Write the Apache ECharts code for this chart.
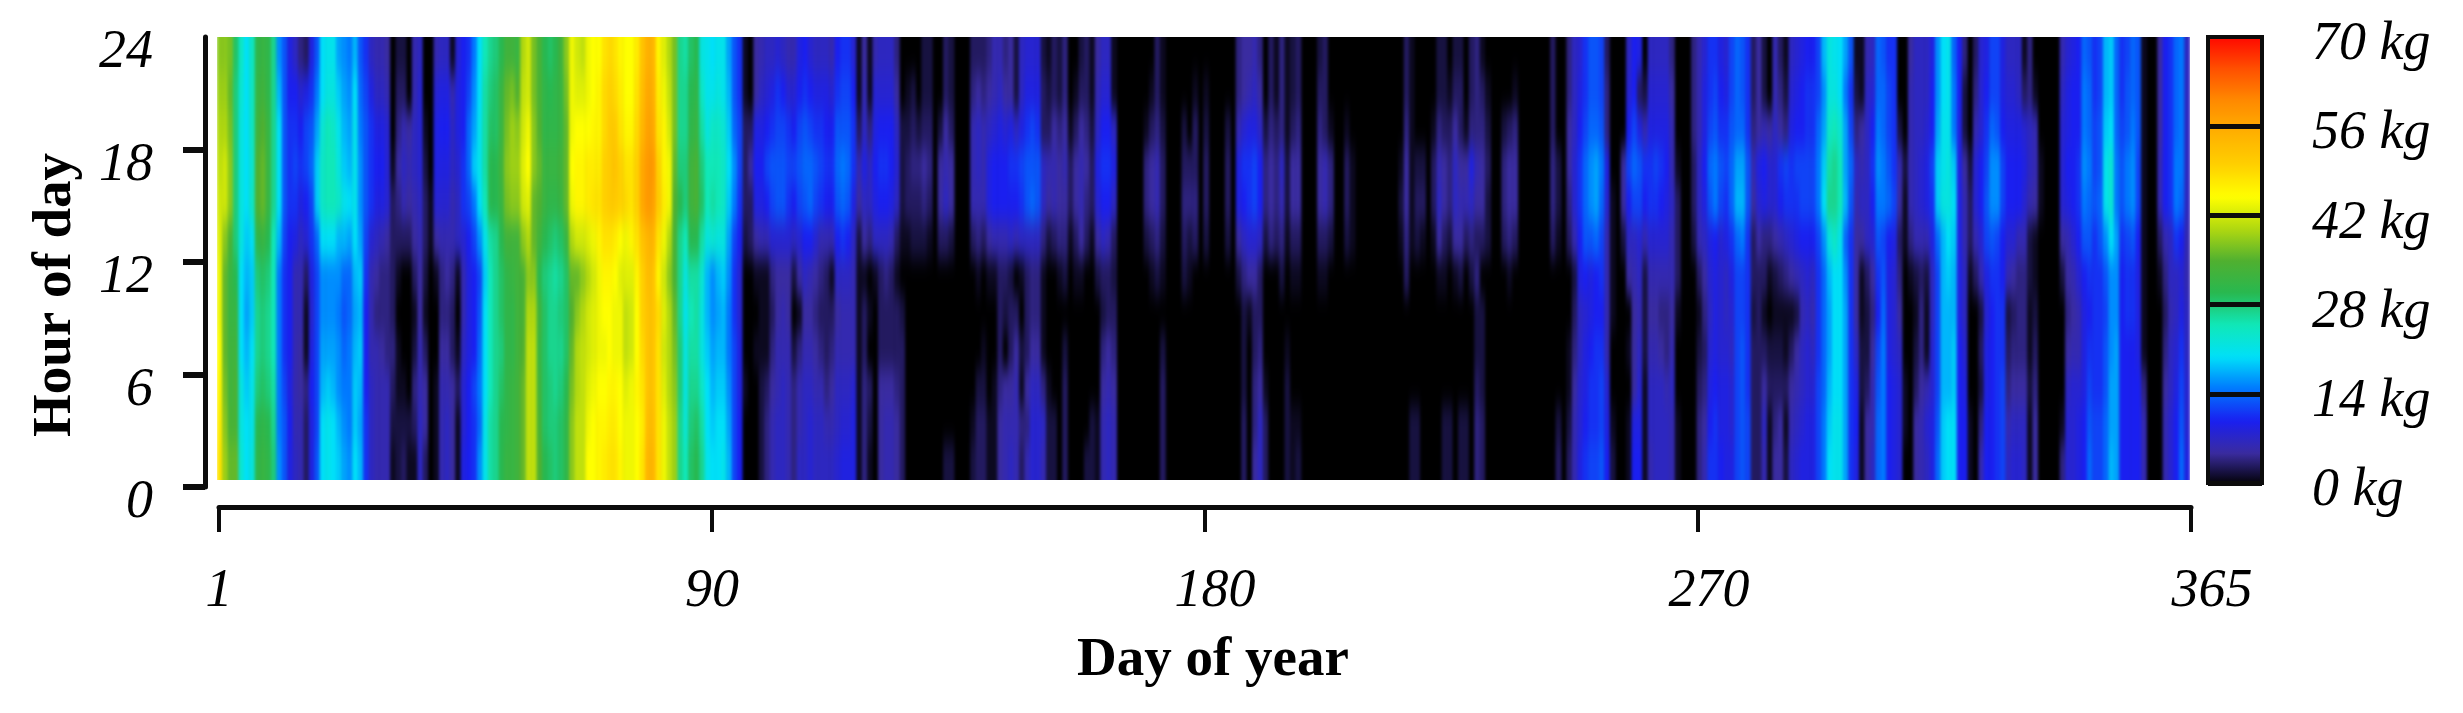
<!DOCTYPE html>
<html>
<head>
<meta charset="utf-8">
<title>Hourly load by day of year</title>
<script src="https://cdn.jsdelivr.net/npm/echarts@6/dist/echarts.min.js"></script>
<style>
    html, body { margin: 0; padding: 0; background: #fff; }
    #chart { width: 2463px; height: 713px; }
</style>
</head>
<body>
<svg width="0" height="0" style="position:absolute">
    <filter id="soft" x="0" y="0" width="100%" height="100%" color-interpolation-filters="sRGB">
        <feGaussianBlur stdDeviation="1.7 11"></feGaussianBlur>
    </filter>
</svg>
<div id="chart"></div>
<script>
// each entry: day of year, then kg for the 12 hour bands from the top of the plot (22-24) down to (0-2)
// days that are left out read as 0 kg and stay black
const janToMar = [
    [1,38,39,40,41,42,43,44,44,45,46,47,48],[2,38,39,40,42,42,38,36,36,36,37,38,39],[3,37,36,37,38,38,34,32,32,33,33,34,36],
    [4,29,28,28,28,28,28,30,32,33,34,34,36],[5,24,23,22,22,22,22,20,20,20,22,22,23],[6,20,20,20,20,20,19,18,17,18,19,20,20],
    [7,24,24,24,23,24,20,19,19,20,21,21,22],[8,31,32,33,35,35,31,28,27,27,28,30,31],[9,32,33,35,36,36,32,29,28,28,29,31,32],
    [10,31,31,32,32,32,30,28,27,27,28,30,31],[11,27,27,27,27,27,25,25,25,25,26,27,28],[12,16,18,20,20,20,18,15,15,15,15,15,16],
    [13,13,13,13,13,13,12,11,11,11,12,13,13],[14,9,10,11,11,11,10,10,10,10,9,10,9],[15,7,10,11,12,11,9,6,6,6,6,6,7],
    [16,4,8,10,11,9,7,6,6,5,5,6,6],[17,3,9,12,12,10,8,3,1,1,4,3,3],[18,9,11,13,14,12,11,9,8,9,10,9,9],
    [19,13,15,17,19,19,14,12,12,12,12,12,13],[20,20,20,23,24,24,20,16,16,17,18,20,20],[21,21,22,25,25,25,20,16,16,17,19,21,21],
    [22,21,22,24,25,25,20,16,16,17,18,20,20],[23,17,19,21,22,24,18,16,15,16,16,18,19],[24,16,17,18,19,21,18,14,13,14,15,16,17],
    [25,15,16,17,18,20,17,14,14,15,15,15,16],[26,18,20,21,21,21,20,18,17,18,19,19,20],[27,13,14,15,16,16,17,19,18,19,18,17,18],
    [28,11,12,13,13,13,12,11,10,10,10,11,11],[29,7,9,11,11,11,8,6,6,6,7,7,7],[30,6,7,9,10,9,7,5,4,6,6,6,6],
    [31,6,7,9,10,9,6,4,4,5,6,6,6],[32,5,6,8,8,8,5,4,4,4,6,6,6],[33,0,0,0,1,3,3,3,3,4,3,2,1],
    [34,2,3,4,5,4,3,1,0,1,1,2,2],[35,2,3,6,7,6,3,0,0,0,1,2,3],[36,0,0,5,6,5,3,0,0,0,0,2,1],
    [37,6,6,7,7,6,5,3,1,2,4,3,1],[38,7,8,8,8,7,6,5,5,6,6,7,7],[39,0,0,1,2,3,3,2,1,3,5,5,3],
    [40,0,0,0,0,1,1,0,0,0,0,0,0],[41,6,8,9,9,8,5,1,0,0,1,1,1],[42,7,9,10,9,8,6,4,4,5,6,6,6],
    [43,7,9,10,9,8,6,5,4,5,6,7,7],[44,1,6,7,7,6,6,4,3,3,5,5,5],[45,8,9,9,8,7,7,1,0,1,3,1,1],
    [46,10,10,10,11,11,8,6,6,7,8,8,9],[47,11,12,14,14,12,10,9,9,9,10,10,10],[48,15,16,17,19,15,12,10,10,10,12,11,11],
    [49,20,20,21,21,20,16,12,13,14,15,14,16],[50,25,26,26,26,25,21,19,20,20,20,21,21],[51,27,28,29,30,30,26,25,25,25,25,26,26],
    [52,28,29,29,30,30,27,27,27,27,27,27,27],[53,30,32,32,33,32,30,29,29,28,29,30,30],[54,33,36,37,38,37,33,31,31,31,31,31,32],
    [55,33,37,39,39,38,33,32,31,31,32,32,32],[56,32,35,38,39,38,33,33,33,33,33,33,33],[57,40,41,42,43,42,38,34,34,35,36,36,36],
    [58,42,42,44,45,43,40,38,40,41,41,41,41],[59,37,37,38,38,36,36,38,40,41,41,41,41],[60,34,34,35,36,35,33,30,33,32,33,34,35],
    [61,30,31,31,32,32,30,28,29,29,29,29,30],[62,29,30,31,32,31,29,27,27,27,28,28,29],[63,30,31,31,32,31,28,26,27,27,27,28,28],
    [64,33,32,32,33,32,29,27,28,27,28,29,29],[65,38,37,36,36,36,32,29,29,29,30,31,31],[66,44,44,44,45,44,40,36,35,36,37,38,38],
    [67,42,43,45,46,46,42,36,38,40,40,41,41],[68,41,43,45,46,46,42,38,40,41,41,41,41],[69,44,44,45,47,47,43,40,42,42,43,44,45],
    [70,45,45,46,47,48,44,42,43,43,44,45,45],[71,45,46,46,47,48,46,44,44,44,45,46,46],[72,48,49,49,50,50,48,46,45,44,45,46,47],
    [73,49,50,51,51,51,48,46,45,45,46,47,48],[74,48,49,51,52,51,47,45,44,44,46,47,48],[75,46,47,48,50,50,45,43,44,44,45,45,46],
    [76,45,45,46,48,49,44,43,41,41,43,44,44],[77,45,45,46,48,48,46,43,42,42,44,44,44],[78,47,48,49,50,50,48,46,45,45,46,45,45],
    [79,52,53,54,56,56,52,50,50,49,48,47,48],[80,55,56,57,58,58,54,53,52,52,52,53,54],[81,54,55,56,58,57,54,52,52,52,52,53,54],
    [82,46,47,48,50,51,48,46,49,48,48,48,48],[83,43,44,46,46,47,44,42,43,42,43,44,44],[84,40,41,42,44,44,40,38,40,40,40,41,41],
    [85,37,37,37,36,35,34,34,36,37,38,39,39],[86,27,27,27,28,30,27,27,27,28,28,27,27],[87,26,27,27,28,28,25,22,21,22,22,23,25],
    [88,29,30,31,33,33,30,26,25,26,27,28,29],[89,30,31,32,34,34,30,26,26,26,27,29,30],[90,22,24,26,28,29,26,23,22,22,24,26,27]
]
const aprToJun = [
    [91,21,21,22,25,25,22,18,18,19,20,20,21],[92,20,21,24,25,26,23,16,16,17,18,19,20],[93,21,22,24,25,25,22,18,17,18,19,20,20],
    [94,21,21,23,24,24,22,19,18,18,19,20,21],[95,17,18,19,20,19,17,16,15,15,16,17,18],[96,13,13,14,16,15,12,11,11,12,12,12,12],
    [97,11,11,12,12,11,10,8,8,9,9,10,10],[98,1,1,3,3,3,2,0,0,0,1,0,0],[99,0,0,3,5,3,3,0,0,0,0,0,0],
    [100,5,5,9,10,9,5,1,0,1,0,0,0],[101,6,7,9,10,9,6,1,1,1,2,2,2],[102,7,8,10,12,10,6,1,1,1,3,4,4],
    [103,7,9,11,13,12,8,4,3,4,5,6,6],[104,8,11,12,13,13,8,5,5,6,6,7,7],[105,7,10,12,13,13,8,5,6,6,7,7,7],
    [106,6,8,11,12,11,8,5,5,6,6,6,6],[107,6,8,10,12,10,7,2,0,2,4,4,4],[108,9,10,12,13,12,8,5,1,4,6,6,7],
    [109,10,11,13,14,13,10,7,5,6,7,7,7],[110,8,10,12,14,14,10,6,5,6,7,8,8],[111,7,9,11,13,12,8,5,4,5,6,7,7],
    [112,7,9,11,12,11,6,4,3,4,6,7,7],[113,7,9,10,11,10,6,3,3,3,4,6,7],[114,6,8,10,11,10,6,1,3,4,5,6,7],
    [115,10,11,13,14,13,10,7,5,6,7,7,8],[116,11,12,13,15,14,11,7,6,6,7,8,9],[117,11,12,13,14,13,10,7,6,6,7,8,9],
    [118,8,10,11,11,9,7,6,6,6,8,9,9],[119,1,1,3,6,5,2,1,1,1,1,1,1],[120,5,6,7,9,7,5,1,3,3,4,4,4],
    [121,1,1,4,7,7,4,0,1,0,3,2,1],[122,6,8,9,10,9,7,1,0,0,0,0,0],[123,7,8,10,11,10,7,3,3,3,5,5,5],
    [124,7,8,10,11,10,7,4,3,3,5,6,6],[125,7,8,10,10,9,6,3,3,3,5,6,6],[126,4,5,7,8,7,3,1,3,3,4,5,5],
    [127,0,0,2,2,2,1,0,2,3,3,3,3],[128,0,1,2,3,3,1,0,0,0,0,0,0],[129,0,2,3,4,3,2,0,0,0,0,0,0],
    [130,0,0,2,4,3,2,0,0,0,0,0,0],[131,2,2,3,5,4,2,0,0,0,0,0,0],[132,2,2,3,4,3,1,0,0,0,0,0,0],
    [134,0,0,2,5,5,3,0,0,0,0,0,0],[135,3,3,5,6,7,3,0,0,0,0,0,2],[136,2,2,3,5,5,2,0,0,0,0,0,2],
    [140,3,4,6,6,6,3,0,0,0,0,1,2],[141,3,5,7,7,6,4,1,0,0,2,3,3],[142,3,4,6,6,6,3,0,0,1,2,3,3],
    [143,4,5,7,9,9,5,1,0,0,0,1,1],[144,6,6,8,10,10,6,1,0,0,1,1,1],[145,6,7,9,10,10,6,3,3,3,4,5,5],
    [146,4,5,8,10,10,6,3,2,0,5,6,6],[147,5,5,9,11,10,7,2,3,3,5,6,7],[148,2,2,7,11,10,6,0,3,5,6,6,6],
    [149,7,7,9,12,11,7,1,0,2,1,4,3],[150,8,9,11,13,13,7,3,3,3,5,4,6],[151,8,9,12,13,14,7,4,4,5,7,8,8],
    [152,8,9,11,13,13,7,4,4,5,7,8,8],[153,2,3,3,7,7,4,1,1,1,4,7,6],[154,1,2,3,6,5,2,0,0,0,1,2,2],
    [155,3,3,5,6,6,3,0,0,0,0,2,2],[156,2,2,4,5,5,4,1,0,0,0,0,0],[157,4,4,5,6,5,4,2,0,2,3,3,3],
    [158,0,0,1,3,3,1,0,0,0,0,0,0],[159,0,1,3,5,5,3,1,0,0,0,0,0],[160,2,3,5,6,6,5,1,0,0,0,0,0],
    [161,3,3,4,5,4,3,0,0,0,0,0,2],[162,1,1,2,3,3,1,0,0,0,0,2,2],[163,5,6,7,9,8,5,2,0,0,0,1,1],
    [164,7,8,10,11,10,7,3,2,4,5,6,6],[165,7,8,10,11,10,6,3,3,5,6,7,7],[166,1,1,7,9,7,3,2,3,4,5,6,6],
    [172,0,0,1,4,4,2,0,0,0,0,0,0],[173,0,1,3,5,5,3,1,0,0,0,0,0],[174,3,3,4,6,6,4,2,0,0,0,0,0],
    [175,1,1,2,3,3,2,1,0,2,3,3,3],[179,0,0,2,3,4,3,2,0,0,0,0,0],[180,0,0,0,3,4,2,1,0,0,0,0,0]
]
const julToSep = [
    [181,0,1,3,3,4,3,0,0,0,0,0,0],[183,0,1,2,3,3,2,0,0,0,0,0,0],[187,0,0,2,3,3,2,0,0,0,0,0,0],
    [189,4,4,6,9,9,5,2,0,0,0,0,0],[190,5,5,8,11,10,7,4,2,2,2,3,3],[191,5,6,9,11,11,8,5,1,0,0,0,0],
    [192,6,7,9,12,12,8,5,3,3,4,4,5],[193,4,5,7,10,10,7,3,3,4,5,7,7],[194,0,0,2,4,4,2,0,0,0,1,3,3],
    [195,3,3,4,5,5,4,0,0,0,0,0,0],[196,1,1,3,4,4,3,0,0,0,0,0,0],[197,4,4,4,7,6,4,2,0,0,0,0,0],
    [198,1,1,1,2,2,1,0,0,1,2,2,2],[199,2,2,3,5,5,3,1,0,0,0,1,1],[200,3,3,4,5,5,3,1,0,0,0,1,2],
    [204,2,3,4,5,5,3,1,0,0,0,0,0],[205,3,3,3,6,6,3,1,0,0,0,0,0],[206,0,0,1,4,4,2,0,0,0,0,0,0],
    [209,0,0,1,3,3,2,0,0,0,0,0,0],[210,0,0,0,1,1,1,0,0,0,0,0,0],[219,0,0,0,1,2,1,0,0,0,0,0,0],
    [220,3,3,4,5,5,4,3,0,0,0,0,0],[221,1,1,1,1,1,1,0,0,0,0,2,2],[222,0,0,0,2,3,2,0,0,0,0,2,2],
    [223,0,0,0,2,3,1,0,0,0,0,0,0],[225,0,0,1,3,3,1,0,0,0,0,0,0],[226,2,2,4,6,7,5,1,0,0,0,0,0],
    [227,2,2,3,5,5,3,1,0,0,0,2,2],[228,0,1,3,4,4,2,0,0,0,0,2,2],[229,2,3,5,7,7,5,1,0,0,0,0,0],
    [230,2,3,3,5,6,5,2,0,0,0,2,2],[231,0,0,1,5,6,3,0,0,0,0,2,2],[232,3,3,4,9,7,4,2,0,0,0,0,0],
    [233,4,4,4,6,5,3,4,2,2,3,4,4],[234,1,3,4,5,5,3,0,2,2,2,3,3],[235,0,1,2,3,2,2,0,0,0,0,0,0],
    [238,0,0,2,4,4,3,0,0,0,0,0,0],[239,0,0,3,5,5,4,1,0,0,0,0,0],[240,0,1,4,5,5,3,0,0,0,0,0,0],
    [247,3,3,3,4,4,3,0,0,0,0,0,0],[248,0,0,0,2,2,1,0,0,0,0,2,3],[250,4,4,5,5,4,3,0,0,1,1,2,3],
    [251,7,7,7,8,8,6,2,3,4,5,6,6],[252,8,9,10,11,11,10,9,7,7,8,8,9],[253,11,11,12,14,14,13,10,8,9,9,10,11],
    [254,13,13,14,16,16,13,9,9,10,11,11,12],[255,13,13,14,17,17,14,10,10,11,11,11,12],[256,12,12,13,15,14,12,11,10,11,12,12,13],
    [257,3,4,4,9,8,6,6,6,6,8,9,10],[258,0,0,0,0,1,1,1,1,0,0,1,2],[260,0,0,0,5,5,2,0,0,0,0,0,0],
    [261,7,8,10,12,10,7,5,0,1,0,1,1],[262,10,10,12,14,12,7,6,5,5,5,9,10],[263,9,3,9,13,12,8,7,6,7,8,9,10],
    [264,0,2,6,11,10,6,2,2,2,1,1,1],[265,7,8,9,11,11,8,6,5,6,7,7,6],[266,7,8,9,12,11,8,6,5,6,7,7,7],
    [267,7,8,9,11,10,8,6,4,5,7,7,7],[268,7,8,9,10,9,8,6,4,4,6,7,7],[269,4,5,6,6,7,6,6,5,6,7,6,6],
    [270,0,0,0,1,3,3,3,1,0,0,1,1],[273,4,4,4,3,3,2,0,0,0,0,0,0]
]
const octToDec = [
    [274,6,6,6,7,7,6,3,1,2,3,4,4],[275,8,9,9,10,9,7,5,4,3,4,5,6],[276,11,11,12,14,13,9,8,7,8,9,10,11],
    [277,11,12,13,15,15,10,9,9,9,10,11,11],[278,9,10,11,13,12,8,8,8,8,9,9,10],[279,8,9,11,12,11,9,7,7,8,9,9,9],
    [280,12,12,13,14,14,11,9,8,7,8,8,9],[281,14,14,14,17,18,14,12,12,12,12,12,12],[282,13,13,14,17,18,15,12,12,13,13,13,13],
    [283,11,11,11,13,13,11,11,11,11,11,12,12],[284,3,3,4,6,5,3,3,2,3,3,3,3],[285,5,5,5,9,8,5,3,3,3,3,3,3],
    [286,2,2,6,10,9,4,3,1,3,5,7,6],[287,0,0,5,8,8,4,1,0,2,3,1,1],[288,6,6,7,8,8,5,2,1,2,3,4,5],
    [289,3,4,5,11,10,6,3,1,2,3,5,5],[290,1,2,4,12,11,7,4,1,1,3,1,2],[291,7,8,9,11,11,8,5,1,3,5,6,7],
    [292,8,9,10,12,11,9,6,2,5,6,7,8],[293,9,10,10,12,12,10,7,6,7,7,8,9],[294,10,11,11,12,12,10,8,7,8,8,9,9],
    [295,10,11,11,12,12,10,7,6,7,8,9,9],[296,12,12,14,15,15,12,11,11,11,12,12,12],[297,18,16,17,19,20,16,14,14,14,14,15,15],
    [298,22,22,24,26,27,22,18,17,17,18,19,20],[299,21,22,25,27,27,24,20,20,20,20,21,21],[300,20,20,23,25,25,21,20,20,20,20,21,21],
    [301,17,15,17,17,18,14,16,17,17,17,17,17],[302,13,11,12,14,13,11,11,11,11,11,11,11],[303,1,2,4,7,6,5,5,5,7,9,10,9],
    [304,1,1,5,6,7,5,1,1,2,2,1,1],[305,6,7,7,7,7,7,3,2,2,3,5,5],[306,7,8,10,11,10,8,5,4,5,6,6,7],
    [307,14,14,15,16,15,13,11,10,12,13,14,14],[308,13,14,14,15,15,12,13,14,15,15,15,15],[309,11,12,12,13,14,10,9,9,9,10,10,10],
    [310,11,11,11,11,12,9,8,8,8,9,9,9],[311,0,0,2,6,5,3,4,5,7,8,8,8],[312,0,0,0,2,1,1,0,0,0,1,1,0],
    [313,5,6,6,6,6,4,1,0,0,0,0,0],[314,7,7,7,7,7,6,2,1,2,3,5,5],[315,7,7,7,8,8,6,3,4,4,5,6,6],
    [316,7,7,8,9,9,6,2,1,1,6,8,7],[317,9,10,10,12,11,9,7,7,8,8,9,9],[318,16,16,17,19,19,14,12,12,12,12,13,14],
    [319,20,20,21,21,22,18,18,18,18,18,19,19],[320,21,21,21,22,22,20,19,18,18,18,20,20],[321,14,15,15,19,20,19,18,18,19,19,20,20],
    [322,10,10,9,9,9,9,9,9,10,10,10,10],[323,4,2,2,5,6,6,7,7,8,9,10,10],[324,0,0,0,2,3,3,1,0,0,0,1,1],
    [325,3,4,6,8,8,6,3,0,0,0,0,0],[326,8,8,8,10,10,8,6,2,3,2,4,6],[327,9,10,11,12,13,12,9,8,9,9,10,10],
    [328,12,12,14,16,16,13,11,10,10,10,10,10],[329,12,12,13,16,16,12,11,11,11,11,11,11],[330,9,9,10,12,12,10,10,11,11,12,12,12],
    [331,7,8,9,10,10,8,6,2,3,4,6,7],[332,7,8,9,10,10,8,5,3,4,5,7,8],[333,7,7,9,10,10,6,4,4,4,5,7,8],
    [334,1,3,8,9,8,6,4,4,4,5,7,7],[335,4,4,7,7,6,2,2,1,1,2,1,1],[336,0,1,6,6,5,1,1,2,3,4,5,5],
    [337,0,0,0,1,1,0,0,0,0,0,0,0],[341,6,7,8,8,8,5,2,0,0,0,1,4],[342,8,9,9,10,9,6,5,4,5,7,8,8],
    [343,9,10,10,10,10,8,6,5,6,8,8,8],[344,10,10,10,11,11,10,8,6,6,8,9,9],[345,14,15,15,16,15,13,10,9,9,9,10,10],
    [346,13,14,14,15,14,13,11,10,11,12,13,14],[347,11,11,12,12,13,11,11,11,11,11,12,12],[348,12,12,13,13,14,13,11,11,11,11,12,12],
    [349,18,18,19,21,21,16,13,12,13,13,14,14],[350,19,19,20,23,23,20,16,16,16,17,17,18],[351,14,14,14,15,15,17,16,16,17,17,17,17],
    [352,11,11,12,13,13,11,10,10,10,10,10,10],[353,12,13,13,15,15,12,11,11,10,10,10,10],[354,14,14,15,16,16,13,11,11,10,10,10,10],
    [355,13,13,13,12,12,10,9,9,9,10,10,10],[356,1,1,1,1,1,1,1,1,1,4,6,6],[359,5,5,5,6,6,3,1,0,0,0,0,0],
    [360,10,10,10,10,10,6,4,3,4,5,6,6],[361,11,11,11,11,11,7,7,6,7,7,8,8],[362,14,14,14,15,15,11,7,7,8,9,10,10],
    [363,15,15,15,15,14,10,8,9,11,12,13,14],[364,7,7,7,7,7,6,6,7,7,8,8,9]
]

const hourBands = ['22-24', '20-22', '18-20', '16-18', '14-16', '12-14', '10-12', '8-10', '6-8', '4-6', '2-4', '0-2']
const dayTicks = ['1', '90', '180', '270', '365']
const dayTickShift = [0, 0, 20, 22, 42]
const jetStops = [
    '#000000', '#3a2ca0', '#1a1ff0', '#0078ff', '#00e0f8', '#10e8b8', '#28b850', '#50b030',
    '#b0d810', '#ffff00', '#ffd000', '#ffb000', '#ff8a00', '#ff5000', '#ff0800'
]

const days = []
for (let d = 1; d <= 364; d++) days.push(String(d))

// one spare band above and below the plot, it is clipped away and only keeps the soft edge from fading
const drawnBands = ['above'].concat(hourBands, ['below'])
const cells = []
janToMar.concat(aprToJun, julToSep, octToDec).forEach(row => {
    drawnBands.forEach((band, i) => {
        const k = Math.min(Math.max(i, 1), hourBands.length)
        cells.push([row[0] - 1, i, row[k]])
    })
})

const serif = 'Liberation Serif'
const ink = '#0c0c0c'
const bandHeight = 443 / hourBands.length

const chart = echarts.init(document.getElementById('chart'), null, { renderer: 'canvas' })
chart.setOption({
    animation: false,
    grid: [
        {
            left: 217,
            top: 37 - bandHeight,
            width: 1973,
            height: 443 + 2 * bandHeight,
            show: true,
            backgroundColor: '#000',
            borderWidth: 0
        },
        { left: 205, top: 37, width: 4, height: 450, zlevel: 1 },
        { left: 219, top: 497, width: 1972, height: 10, zlevel: 1 },
        { left: 2208, top: 37, width: 54, height: 446, show: true, backgroundColor: 'transparent', borderColor: ink, borderWidth: 4, z: 10, zlevel: 1 }
    ],
    visualMap: {
        type: 'continuous',
        min: 0,
        max: 70,
        seriesIndex: 0,
        calculable: false,
        left: 2208,
        top: 37,
        padding: 0,
        itemWidth: 54,
        itemHeight: 448,
        text: null,
        z: 1,
        zlevel: 1,
        inRange: { color: jetStops }
    },
    xAxis: [
        { gridIndex: 0, type: 'category', data: days, show: false },
        { gridIndex: 1, type: 'value', min: 0, max: 1, show: false },
        {
            gridIndex: 2,
            type: 'category',
            zlevel: 1,
            boundaryGap: false,
            data: dayTicks.map((t, i) => ({
                value: t,
                textStyle: { padding: [0, 0, 0, dayTickShift[i]] }
            })),
            position: 'bottom',
            axisLine: { show: true, lineStyle: { color: ink, width: 5 } },
            axisTick: { show: true, alignWithLabel: true, length: 25, lineStyle: { color: ink, width: 4 } },
            axisLabel: { show: true, interval: 0, margin: 58, color: '#000', fontFamily: serif, fontStyle: 'italic', fontSize: 54 },
            name: 'Day of year',
            nameLocation: 'middle',
            nameGap: 126,
            nameTextStyle: { color: '#000', fontFamily: serif, fontWeight: 'bold', fontSize: 55, padding: [0, 0, 0, 16] }
        },
        { gridIndex: 3, type: 'value', min: 0, max: 1, show: false, zlevel: 1 }
    ],
    yAxis: [
        { gridIndex: 0, type: 'category', data: drawnBands, inverse: true, show: false },
        {
            gridIndex: 1,
            type: 'value',
            zlevel: 1,
            min: 0,
            max: 24,
            interval: 6,
            position: 'left',
            splitLine: { show: false },
            axisLine: { show: true, lineStyle: { color: ink, width: 5 } },
            axisTick: { show: true, length: 22, customValues: [0, 6, 12, 18], lineStyle: { color: ink, width: 6 } },
            axisLabel: { margin: 52, color: '#000', fontFamily: serif, fontStyle: 'italic', fontSize: 54, verticalAlign: 'top', lineHeight: 32 },
            name: 'Hour of day',
            nameLocation: 'middle',
            nameGap: 122,
            nameRotate: 90,
            nameTextStyle: { color: '#000', fontFamily: serif, fontWeight: 'bold', fontSize: 55, padding: [0, 66, 0, 0] }
        },
        { gridIndex: 2, type: 'value', min: 0, max: 1, show: false },
        {
            gridIndex: 3,
            type: 'value',
            zlevel: 1,
            min: 0,
            max: 70,
            interval: 14,
            position: 'right',
            z: 10,
            splitLine: { show: true, lineStyle: { color: ink, width: 5 } },
            axisLine: { show: false },
            axisTick: { show: true, length: 18, customValues: [0, 14, 28, 42, 56], lineStyle: { color: ink, width: 5 } },
            axisLabel: { margin: 50, color: '#000', fontFamily: serif, fontStyle: 'italic', fontSize: 54, verticalAlign: 'top', lineHeight: 16, formatter: '{value} kg' }
        }
    ],
    series: [
        {
            type: 'heatmap',
            xAxisIndex: 0,
            yAxisIndex: 0,
            data: cells,
            progressive: 0
        }
    ]
})

// the source picture is a smoothed raster, so soften only the heatmap layer and cut it back to the plot area
const heatLayer = chart.getDom().querySelector('canvas')
heatLayer.style.filter = 'url(#soft)'
heatLayer.style.clipPath = 'inset(37px 273px 233px 217px)'
</script>
</body>
</html>
